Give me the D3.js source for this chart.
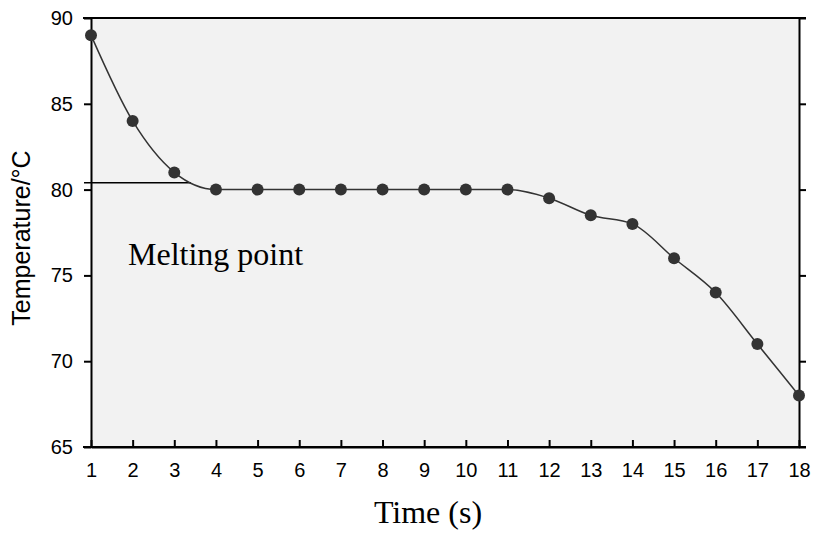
<!DOCTYPE html>
<html>
<head>
<meta charset="utf-8">
<script src="https://cdn.jsdelivr.net/npm/d3@7"></script>
<style>
body { margin: 0; background: #fff; }
</style>
</head>
<body>
<svg id="chart" width="813" height="539"></svg>
<script>
var times = [1, 2, 3, 4, 5, 6, 7, 8, 9, 10, 11, 12, 13, 14, 15, 16, 17, 18];
var temps = [89, 84, 81, 80, 80, 80, 80, 80, 80, 80, 80, 79.5, 78.5, 78, 76, 74, 71, 68];
var yTicks = [65, 70, 75, 80, 85, 90];
var meltingPoint = 80.4;

var svg = d3.select("#chart"),
    sans = "'Liberation Sans', Arial, sans-serif",
    serif = "'Liberation Serif', 'Times New Roman', serif",
    pLeft = 91, pRight = 799, pTop = 18, pBottom = 447;

var x = d3.scaleLinear().domain([1, 18]).range([pLeft, pRight]);
var y = d3.scaleLinear().domain([65, 90]).range([pBottom, pTop]);

svg.append("rect")
    .attr("x", pLeft).attr("y", pTop)
    .attr("width", pRight - pLeft).attr("height", pBottom - pTop)
    .attr("fill", "#f2f2f2");

// axes
var gx = svg.append("g")
    .attr("transform", "translate(0," + pBottom + ")")
    .call(d3.axisBottom(x).tickValues(times).tickSizeInner(-7).tickSizeOuter(0).tickPadding(16));
var gy = svg.append("g")
    .attr("transform", "translate(" + pLeft + ",0)")
    .call(d3.axisLeft(y).tickValues(yTicks).tickSize(7).tickSizeOuter(0).tickPadding(11));
var gr = svg.append("g")
    .attr("transform", "translate(" + pRight + ",0)")
    .call(d3.axisRight(y).tickValues(yTicks).tickSize(7).tickSizeOuter(0).tickFormat(""));

[gx, gy, gr].forEach(function (g) {
    g.attr("font-size", 20).attr("font-family", sans);
    g.select(".domain").attr("stroke", "#000").attr("stroke-width", 2);
    g.selectAll(".tick line").attr("stroke", "#000").attr("stroke-width", 2);
    g.selectAll(".tick text").attr("fill", "#000");
});

// top and bottom frame lines
svg.append("line").attr("x1", pLeft - 8).attr("x2", pRight + 7)
    .attr("y1", pTop).attr("y2", pTop).attr("stroke", "#000").attr("stroke-width", 2);
svg.append("line").attr("x1", pLeft - 8).attr("x2", pRight + 7)
    .attr("y1", pBottom).attr("y2", pBottom).attr("stroke", "#000").attr("stroke-width", 2);

// melting point line
svg.append("line")
    .attr("x1", pLeft - 7).attr("x2", x(3.4))
    .attr("y1", y(meltingPoint)).attr("y2", y(meltingPoint))
    .attr("stroke", "#000").attr("stroke-width", 1.5);

var line = d3.line()
    .x(function (d, i) { return x(times[i]); })
    .y(function (d) { return y(d); })
    .curve(d3.curveMonotoneX);

svg.append("path")
    .datum(temps)
    .attr("d", line)
    .attr("fill", "none")
    .attr("stroke", "#333")
    .attr("stroke-width", 1.5);

svg.selectAll("circle.pt").data(temps).enter().append("circle")
    .attr("class", "pt")
    .attr("cx", function (d, i) { return x(times[i]); })
    .attr("cy", function (d) { return y(d); })
    .attr("r", 6)
    .attr("fill", "#333");

svg.append("text")
    .attr("x", 128).attr("y", 265)
    .attr("font-family", serif)
    .attr("font-size", 32)
    .text("Melting point");

svg.append("text")
    .attr("x", 428).attr("y", 523)
    .attr("text-anchor", "middle")
    .attr("font-family", serif)
    .attr("font-size", 32)
    .text("Time (s)");

svg.append("text")
    .attr("transform", "translate(30,238) rotate(-90)")
    .attr("text-anchor", "middle")
    .attr("font-family", sans)
    .attr("font-size", 25)
    .text("Temperature/°C");
</script>
</body>
</html>
